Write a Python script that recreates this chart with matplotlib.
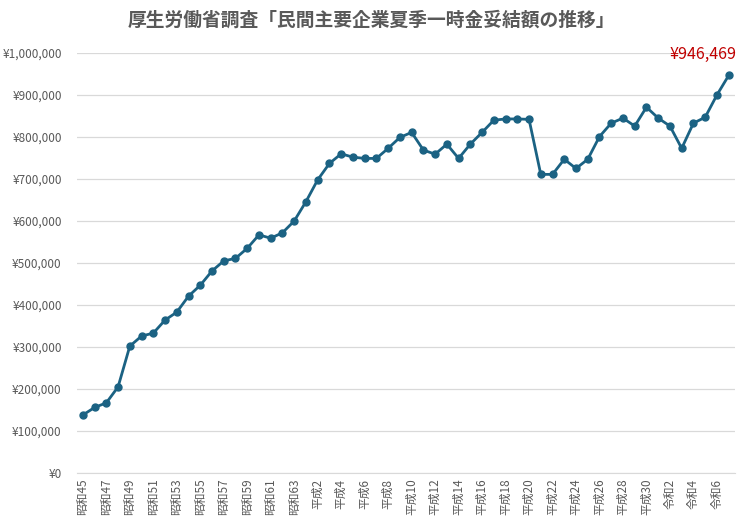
import matplotlib
matplotlib.use('Agg')
import matplotlib.pyplot as plt
from matplotlib.ticker import FuncFormatter, MultipleLocator

plt.rcParams['font.family'] = ['Noto Sans CJK JP', 'DejaVu Sans']

# 昭和45 (1970) .. 令和7 (2025)
years = (['昭和%d' % y for y in range(45, 64)]
         + ['平成%d' % y for y in range(1, 31)]
         + ['令和%d' % y for y in range(1, 8)])
years[19] = '平成1'
years[49] = '令和1'

bonus = [138000, 156000, 167000, 205000, 302000, 326000, 333000, 364000,
         383000, 421000, 447000, 481000, 505000, 511000, 535000, 567000,
         559000, 572000, 600000, 646000, 698000, 737000, 760000, 752000,
         749000, 749000, 773000, 799000, 811000, 769000, 759000, 783000,
         749000, 783000, 811000, 840000, 843000, 843000, 842000, 711000,
         711000, 747000, 725000, 747000, 801000, 833000, 845000, 826000,
         871000, 845000, 826000, 773000, 833000, 847000, 900000, 946469]

line_color = '#1b6283'
text_color = '#595959'

fig = plt.figure(figsize=(7.43, 5.29), dpi=100)
ax = fig.add_axes([0.1036, 0.1059, 0.885, 0.7939])

x = list(range(len(bonus)))
ax.plot(x, bonus, color=line_color, linewidth=2.0, marker='o', markersize=5,
        zorder=3)

ax.set_xlim(-0.5, len(bonus) - 0.5)
ax.set_ylim(0, 1000000)
ax.yaxis.set_major_locator(MultipleLocator(100000))
ax.yaxis.set_major_formatter(FuncFormatter(lambda v, p: '¥{:,.0f}'.format(v)))
ax.grid(axis='y', color='#d9d9d9', linewidth=0.9)
ax.set_axisbelow(True)

ax.set_xticks(x[::2])
ax.set_xticklabels(years[::2], rotation=90, fontsize=8.5, color=text_color)
ax.tick_params(axis='y', labelsize=8.5, colors=text_color, length=0, pad=11)
ax.tick_params(axis='x', length=0, pad=4)

for side in ['top', 'right', 'left']:
    ax.spines[side].set_visible(False)
ax.spines['bottom'].set_color('#d9d9d9')

# last value label
ax.annotate('¥{:,}'.format(bonus[-1]), (x[-1], bonus[-1]), xytext=(6, 9),
            textcoords='offset points', ha='right', va='bottom',
            color='#c00000', fontsize=11.5)

fig.text(0.5, 0.962, '厚生労働省調査「民間主要企業夏季一時金妥結額の推移」',
         ha='center', va='center', fontsize=13.5, fontweight='bold',
         color=text_color)

fig.savefig('out.png', dpi=100)
